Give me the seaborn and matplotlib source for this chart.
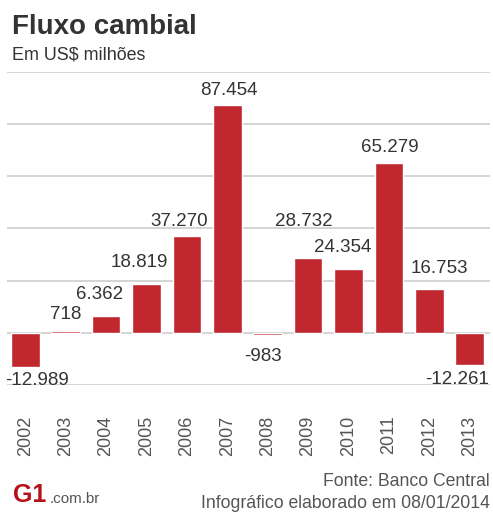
import matplotlib
matplotlib.use("Agg")
import matplotlib.pyplot as plt
import seaborn as sns
import pandas as pd

# Fluxo cambial anual (US$ milhões)
years = ["2002", "2003", "2004", "2005", "2006", "2007",
         "2008", "2009", "2010", "2011", "2012", "2013"]
values = [-12989, 718, 6362, 18819, 37270, 87454,
          -983, 28732, 24354, 65279, 16753, -12261]
labels = ["-12.989", "718", "6.362", "18.819", "37.270", "87.454",
          "-983", "28.732", "24.354", "65.279", "16.753", "-12.261"]
# label nudges (pixels) so neighbouring values don't collide
label_dx = [12, 0, -6, -7, -8, 2, -5, -4, -6, 1, 10, -13]
label_dy = [-14, 16, 22, 21, 14, 14, -21, 36, 22, 15, 21, -15]

df = pd.DataFrame({"ano": years, "fluxo": values})

sns.set_theme(style="white")
plt.rcParams["font.family"] = ["Liberation Sans", "DejaVu Sans"]

BAR = "#c0272f"
GRID = "#d4d4d4"
TXT = "#333333"
GREY = "#555555"

fig = plt.figure(figsize=(4.93, 5.12), dpi=100)
ax = fig.add_axes([7 / 493, 127 / 512, 483 / 493, 313 / 512])

sns.barplot(data=df, x="ano", y="fluxo", color=BAR, width=0.71,
            saturation=1, ax=ax, zorder=3)

ax.set_ylim(-20000, 100000)
ax.set_xlim(-0.45, 11.5)
ax.set_yticks(range(-20000, 100001, 20000))
ax.yaxis.grid(True, color=GRID, linewidth=1.4, zorder=0)
ax.set_axisbelow(True)
ax.tick_params(axis="y", left=False, labelleft=False)
ax.tick_params(axis="x", bottom=False, pad=16, labelsize=13,
               labelcolor=GREY, labelrotation=90)
for lab in ax.get_xticklabels():
    lab.set_va("top")
for s in ax.spines.values():
    s.set_visible(False)
ax.set_xlabel("")
ax.set_ylabel("")

for i, (v, t) in enumerate(zip(values, labels)):
    ax.annotate(t, xy=(i, v), xytext=(label_dx[i], label_dy[i]),
                textcoords="offset pixels", ha="center", va="center",
                fontsize=13.5, color=TXT, zorder=4)

fig.text(12 / 493, 1 - 27 / 512, "Fluxo cambial", fontsize=20,
         fontweight="bold", color=TXT, va="center", ha="left")
fig.text(12 / 493, 1 - 55 / 512, "Em US$ milhões", fontsize=12.9,
         color=TXT, va="center", ha="left")

fig.text(490 / 493, 1 - 482 / 512, "Fonte: Banco Central", fontsize=12.7,
         color=GREY, va="center", ha="right")
fig.text(490 / 493, 1 - 503 / 512, "Infográfico elaborado em 08/01/2014",
         fontsize=12.7, color=GREY, va="center", ha="right")

fig.text(13 / 493, 1 - 495 / 512, "G1", fontsize=18, fontweight="heavy",
         color="#b5121b", va="center", ha="left")
fig.text(50 / 493, 1 - 499 / 512, ".com.br", fontsize=11,
         color=GREY, va="center", ha="left")

fig.savefig("out.png", dpi=100, facecolor="white")
